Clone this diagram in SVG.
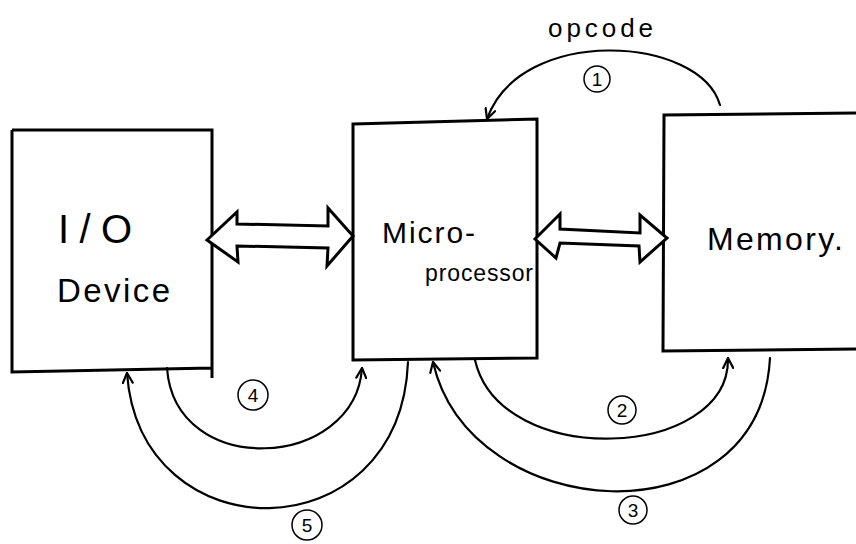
<svg xmlns="http://www.w3.org/2000/svg" width="856" height="544" viewBox="0 0 856 544">
<defs>
<style>
.box{fill:#fff;stroke:#000;stroke-width:3}
.dbl{fill:#fff;stroke:#000;stroke-width:3;stroke-linejoin:miter}
.arc{fill:none;stroke:#000;stroke-width:2.2;stroke-linecap:round}
.lbl{font-family:"Liberation Sans","DejaVu Sans",sans-serif;fill:#000}
.num{fill:none;stroke:#000;stroke-width:1.5}
.numt{font-family:"Liberation Sans",sans-serif;font-size:19px;text-anchor:middle;fill:#000}
</style>
<marker id="ah" viewBox="0 0 12 12" refX="11" refY="6" markerWidth="12" markerHeight="12" markerUnits="userSpaceOnUse" orient="auto">
<path d="M1,1 L11,6 L1,11" fill="none" stroke="#000" stroke-width="2.2" stroke-linecap="round" stroke-linejoin="round"/>
</marker>
</defs>
<rect width="856" height="544" fill="#fff"/>
<g id="io-device">
<path class="box" d="M12 130 L212 130 L212 378 M212 368 L12 372 L12 130"/>
<text class="lbl" x="58" y="243" font-size="40" textLength="74" lengthAdjust="spacing">I/O</text>
<text class="lbl" x="57" y="302" font-size="33" textLength="113" lengthAdjust="spacing">Device</text>
</g>
<g id="microprocessor">
<path class="box" d="M353 124 L537 119 L537 358 L353 360 Z"/>
<text class="lbl" x="382" y="243" font-size="30" textLength="93" lengthAdjust="spacing">Micro-</text>
<text class="lbl" x="425" y="281" font-size="23" textLength="108" lengthAdjust="spacing">processor</text>
</g>
<g id="memory">
<path class="box" d="M860 113 L664 115 L663 351 L860 349"/>
<text class="lbl" x="707" y="250" font-size="32" textLength="136" lengthAdjust="spacing">Memory.</text>
</g>
<g id="connectors">
<polygon class="dbl" points="207,240 237,212 237,224 328,226 328,208 353,236 327,266 328,248 237,246 238,262"/>
<polygon class="dbl" points="535,239 560,214 560,229 640,233 640,215 667,238 640,262 639,246 560,243 556,258"/>
<path class="arc" d="M720 105 C700 35 520 25 487 119" marker-end="url(#ah)"/>
<path class="arc" d="M475 360 C500 470 730 460 728 358" marker-end="url(#ah)"/>
<path class="arc" d="M770 358 C760 545 470 525 433 362" marker-end="url(#ah)"/>
<path class="arc" d="M167 368 C175 480 355 470 362 368" marker-end="url(#ah)"/>
<path class="arc" d="M408 362 C400 555 140 555 127 373" marker-end="url(#ah)"/>
</g>
<g id="labels">
<text class="lbl" x="548" y="37" font-size="26" textLength="105" lengthAdjust="spacing">opcode</text>
<g id="n1"><circle class="num" cx="597" cy="79" r="13"/><text class="numt" x="597" y="86">1</text></g>
<g id="n2"><circle class="num" cx="622" cy="410" r="14"/><text class="numt" x="622" y="417">2</text></g>
<g id="n3"><circle class="num" cx="633" cy="510" r="14"/><text class="numt" x="633" y="517">3</text></g>
<g id="n4"><circle class="num" cx="253" cy="395" r="15"/><text class="numt" x="253" y="402">4</text></g>
<g id="n5"><circle class="num" cx="307" cy="525" r="15"/><text class="numt" x="307" y="532">5</text></g>
</g>
</svg>
